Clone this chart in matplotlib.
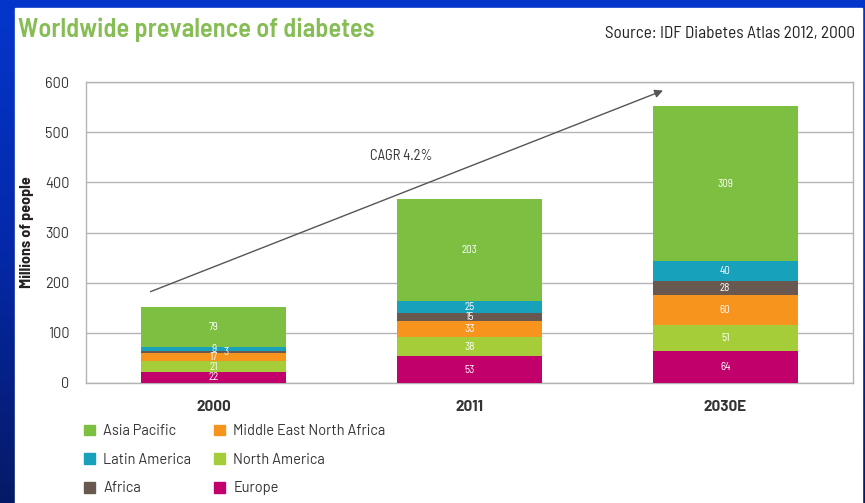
import numpy as np
import matplotlib.pyplot as plt
from matplotlib.patches import Rectangle, Patch
from matplotlib.colors import LinearSegmentedColormap
from matplotlib import font_manager

# data: millions of people with diabetes, by region
years = ['2000', '2011', '2030E']
regions = ['Europe', 'North America', 'Middle East North Africa', 'Africa',
           'Latin America', 'Asia Pacific']
europe = [22, 53, 64]
north_america = [21, 38, 51]
mena = [17, 33, 60]
africa = [3, 15, 28]
latin_america = [9, 25, 40]
asia_pacific = [79, 203, 309]
series = [europe, north_america, mena, africa, latin_america, asia_pacific]

colors = ['#c2006b', '#a5cd39', '#f7941e', '#685850', '#17a1bb', '#7dbf41']


def first_font(*cands):
    names = {f.name for f in font_manager.fontManager.ttflist}
    for c in cands:
        if c in names:
            return c
    return 'DejaVu Sans'


cond = first_font('Barlow Semi Condensed', 'Archivo Narrow', 'Lato')
regular = first_font('Barlow', 'Barlow Semi Condensed', 'Lato')
plt.rcParams['font.family'] = [regular, 'DejaVu Sans']

W, H = 865, 503
fig = plt.figure(figsize=(W / 100, H / 100), dpi=100)

# blue slide background with a vertical gradient, white panel on top
bg = fig.add_axes([0, 0, 1, 1], zorder=-10)
grad = np.linspace(0, 1, 256).reshape(-1, 1)
cmap = LinearSegmentedColormap.from_list('slide', ['#0436cc', '#0428a8', '#061a66'])
bg.imshow(grad, aspect='auto', cmap=cmap, extent=[0, 1, 0, 1], origin='upper')
bg.add_patch(Rectangle((15 / W, 0), (862 - 15) / W, (H - 8) / H,
                       transform=bg.transAxes, color='white', zorder=2))
bg.set_axis_off()

ax = fig.add_axes([86 / W, 1 - 383 / H, (853 - 86) / W, (383 - 82) / H])
x = np.arange(len(years))
bottom = np.zeros(len(years))
for vals, col in zip(series, colors):
    ax.bar(x, vals, width=0.567, bottom=bottom, color=col, zorder=3)
    for i, v in enumerate(vals):
        # very thin segment: put the value beside its neighbour's label
        dx = 9 if v < 5 else 0
        ax.annotate(str(v), (x[i], bottom[i] + v / 2), xytext=(dx, 0),
                    textcoords='offset points', ha='center', va='center',
                    color='white', fontsize=8, family=cond, zorder=4)
    bottom += vals

ax.set_xlim(-0.5, 2.5)
ax.set_ylim(0, 600)
ax.set_yticks(range(0, 601, 100))
ax.yaxis.grid(True, color='#b4b4b4', linewidth=1, zorder=0)
for s in ax.spines.values():
    s.set_color('#b4b4b4')
    s.set_linewidth(1)
ax.tick_params(length=0, labelsize=10.5, colors='#333333', pad=12)
ax.set_xticks(x)
ax.set_xticklabels(years, fontweight='bold', fontsize=11)
ax.tick_params(axis='x', pad=12)
ax.set_ylabel('Millions of people', fontweight='bold', fontsize=11.5,
              color='#222222', family=cond, labelpad=8)

# growth arrow
ax.annotate('', xy=(1.767, 585), xytext=(-0.258, 180),
            arrowprops=dict(arrowstyle='-|>', color='#555555', lw=1,
                            mutation_scale=12), zorder=5)
ax.text(0.734, 452, 'CAGR 4.2%', ha='center', va='center', fontsize=10.5,
        family=cond, color='#333333')

fig.text(18 / W, 1 - 30 / H, 'Worldwide prevalence of diabetes', fontsize=19,
         fontweight='semibold', color='#86bd55', family=cond, va='center')
fig.text(855 / W, 1 - 33 / H, 'Source: IDF Diabetes Atlas 2012, 2000',
         fontsize=12.4, color='#222222', family=cond, va='center', ha='right')

# legend: column-wise order
order = [5, 4, 3, 2, 1, 0]
handles = [Patch(color=colors[i], label=regions[i]) for i in order]
fig.legend(handles=handles, ncol=2, loc='upper left',
           bbox_to_anchor=(71 / W, 1 - 411 / H), frameon=False,
           handlelength=0.75, handleheight=0.75, handletextpad=0.55,
           columnspacing=1.6, labelspacing=1.0,
           prop={'family': regular, 'size': 10.5}, labelcolor='#333333')

fig.savefig('out.png', dpi=100)
